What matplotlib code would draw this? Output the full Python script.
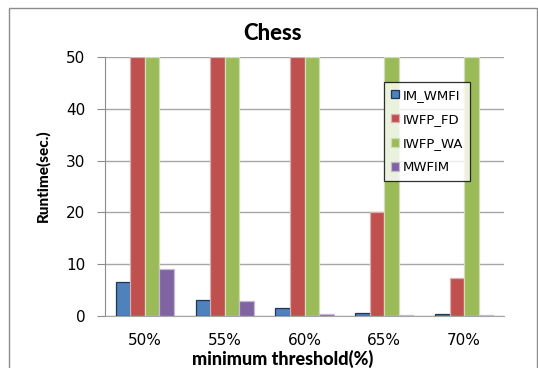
import numpy as np
import matplotlib
matplotlib.use("Agg")
import matplotlib.pyplot as plt
from matplotlib.patches import Rectangle

# dados (barras vermelha/verde cortadas no topo em 50)
limiares = ["50%", "55%", "60%", "65%", "70%"]
im_wmfi = [6.5, 3.1, 1.5, 0.55, 0.4]
iwfp_fd = [50, 50, 50, 20.1, 7.4]
iwfp_wa = [50, 50, 50, 50, 50]
mwfim = [9.1, 2.9, 0.3, 0.12, 0.1]

series = [
    ("IM_WMFI", im_wmfi, "#4f81bd", "#1f3550"),
    ("IWFP_FD", iwfp_fd, "#c0504d", "#d9b0af"),
    ("IWFP_WA", iwfp_wa, "#9bbb59", "#cfdcb4"),
    ("MWFIM", mwfim, "#8064a2", "#c4b8d2"),
]

fig = plt.figure(figsize=(5.38, 3.68), dpi=100)
ax = fig.add_axes([0.1952, 0.1413, 0.7416, 0.7038])

# moldura externa
fig.patches.append(Rectangle((9 / 538, -0.1), 528 / 538, 1 - 8 / 368 + 0.1,
                             transform=fig.transFigure, fill=False,
                             edgecolor="#8c8c8c", linewidth=1.0))

x = np.arange(len(limiares))
w = 0.182
for k, (nome, vals, cor, borda) in enumerate(series):
    ax.bar(x + (k - 1.5) * w, vals, width=w, color=cor, edgecolor=borda,
           linewidth=0.9, label=nome, zorder=3)

ax.set_xlim(-0.5, 4.5)
ax.set_ylim(0, 50)
ax.set_yticks(np.arange(0, 51, 10))
ax.set_xticks(x)
ax.set_xticklabels(limiares)
ax.grid(axis="y", color="#a6a6a6", linewidth=1.0, zorder=0)
for lado in ["top", "right"]:
    ax.spines[lado].set_visible(False)
ax.spines["left"].set_color("#8c8c8c")
ax.spines["bottom"].set_color("#a6a6a6")
ax.tick_params(axis="y", length=6, color="#8c8c8c", labelsize=11, pad=8)
ax.tick_params(axis="x", length=0, labelsize=11, pad=12)

fig.text(273 / 538, 1 - 33 / 368, "Chess", ha="center", va="center",
         fontsize=16, fontweight="black", family="Lato")
fig.text(43 / 538, 1 - 176 / 368, "Runtime(sec.)", ha="center", va="center",
         rotation=90, fontsize=11, fontweight="black", family="Lato")
fig.text(283 / 538, 1 - 359 / 368, "minimum threshold(%)", ha="center",
         va="center", fontsize=13, fontweight="black", family="Lato")

leg = ax.legend(loc="upper left", bbox_to_anchor=((384 - 105) / 399, 1 - (82 - 57) / 259),
                fontsize=9.5, frameon=True, fancybox=False, edgecolor="black",
                handlelength=0.6, handleheight=0.6, handletextpad=0.3,
                labelspacing=0.85, borderpad=0.5, borderaxespad=0)
leg.get_frame().set_linewidth(0.9)
leg.set_zorder(5)

fig.savefig("out.png", dpi=100)
